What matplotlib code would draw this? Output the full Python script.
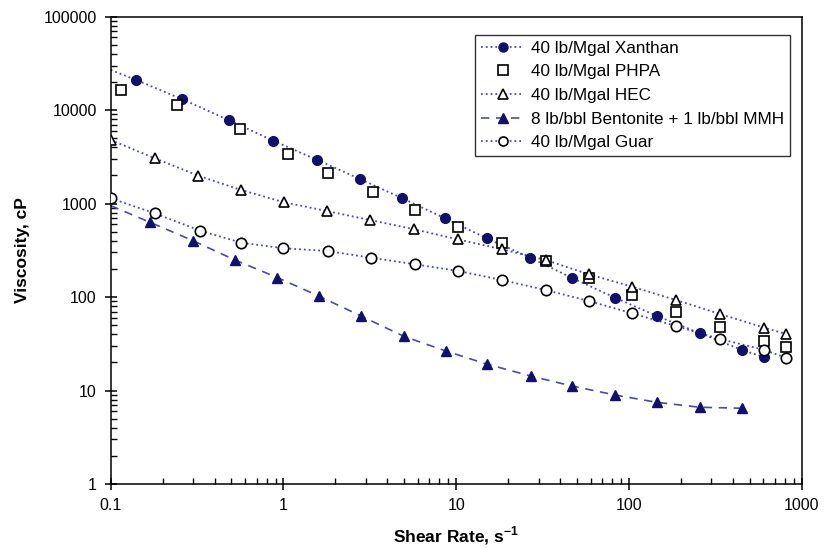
import numpy as np
import matplotlib.pyplot as plt
from matplotlib.ticker import LogLocator, FixedLocator, NullFormatter

plt.rcParams['font.family'] = ['Liberation Sans', 'DejaVu Sans']
plt.rcParams['mathtext.fontset'] = 'custom'
plt.rcParams['mathtext.bf'] = 'Liberation Sans:bold'

# shear rates (1/s) and viscosities (cP) for each fluid
x_xan = [0.141, 0.26, 0.484, 0.873, 1.57, 2.77, 4.88, 8.6, 15.0, 26.8, 46.6, 83, 145, 258, 453, 608]
y_xan = [21000, 13060, 7800, 4710, 2930, 1835, 1140, 697, 426, 264, 161, 98.5, 62.8, 41, 27.1, 22.7]
# dotted guide for xanthan starts at the left edge of the axis
x_xan_line = [0.1] + x_xan
y_xan_line = [26900] + y_xan

x_phpa = [0.115, 0.243, 0.562, 1.06, 1.82, 3.31, 5.77, 10.3, 18.5, 33, 58.7, 104.5, 187, 336, 607, 811]
y_phpa = [16400, 11350, 6240, 3370, 2130, 1322, 855, 567, 382, 243, 159, 105, 69.8, 48.2, 34.1, 29]

x_hec = [0.1, 0.18, 0.321, 0.568, 1.007, 1.78, 3.17, 5.72, 10.2, 18.5, 33, 58.7, 104.5, 187, 336, 607, 811]
y_hec = [4800, 3055, 1990, 1400, 1034, 834, 668, 531, 415, 324, 249, 175, 129, 93, 66, 47, 40.3]

x_bent = [0.169, 0.30, 0.524, 0.92, 1.61, 2.81, 4.98, 8.7, 15, 27, 46.6, 83, 145, 258, 453]
y_bent = [631, 401, 249, 162, 102, 62.8, 38, 26.5, 19.2, 14.3, 11.2, 8.96, 7.48, 6.62, 6.46]
x_bent_line = [0.1] + x_bent
y_bent_line = [950] + y_bent

x_guar = [0.1, 0.18, 0.33, 0.57, 1.0, 1.8, 3.2, 5.8, 10.3, 18.5, 33, 58.7, 104.5, 187, 336, 607, 811]
y_guar = [1140, 787, 513, 382, 333, 311, 264, 224, 190, 152, 119, 90.8, 67, 49, 35.6, 27.2, 22.4]

labels = ['40 lb/Mgal Xanthan', '40 lb/Mgal PHPA', '40 lb/Mgal HEC',
          '8 lb/bbl Bentonite + 1 lb/bbl MMH', '40 lb/Mgal Guar']

navy = '#10106e'
line_c = '#4a4aa8'

fig = plt.figure(figsize=(8.25, 5.48), dpi=100)
ax = fig.add_axes([0.1342, 0.1168, 0.8376, 0.8527])

ax.plot(x_xan_line, y_xan_line, ls=':', color=line_c, lw=1.3, zorder=2)
ax.plot(x_hec, y_hec, ls=':', color=line_c, lw=1.3, zorder=2)
ax.plot(x_bent_line, y_bent_line, ls=(0, (5, 4)), color=line_c, lw=1.2, zorder=2)
ax.plot(x_guar, y_guar, ls=':', color=line_c, lw=1.3, zorder=2)

ax.plot(x_xan, y_xan, 'o', ms=7, color=navy, mec=navy, zorder=3)
ax.plot(x_phpa, y_phpa, 's', ms=7.5, mfc='white', mec='black', mew=1.2, zorder=3)
ax.plot(x_hec, y_hec, '^', ms=7.5, mfc='white', mec='black', mew=1.2, zorder=3)
ax.plot(x_bent, y_bent, '^', ms=7.5, color=navy, mec=navy, zorder=3)
ax.plot(x_guar, y_guar, 'o', ms=7.5, mfc='white', mec='black', mew=1.2, zorder=3)

# legend handles combine the guide line and the marker
h_xan, = ax.plot([], [], ls=':', color=line_c, lw=1.3, marker='o', ms=6.5, mfc=navy, mec=navy)
h_phpa, = ax.plot([], [], ls='none', marker='s', ms=6.5, mfc='white', mec='black', mew=1.2)
h_hec, = ax.plot([], [], ls=':', color=line_c, lw=1.3, marker='^', ms=6.5, mfc='white', mec='black', mew=1.2)
h_bent, = ax.plot([], [], ls=(0, (5, 4)), color=line_c, lw=1.2, marker='^', ms=6.5, mfc=navy, mec=navy)
h_guar, = ax.plot([], [], ls=':', color=line_c, lw=1.3, marker='o', ms=6.5, mfc='white', mec='black', mew=1.2)

leg = ax.legend([h_xan, h_phpa, h_hec, h_bent, h_guar], labels,
                loc='upper right', bbox_to_anchor=(0.983, 0.961), borderaxespad=0,
                fontsize=12.3, frameon=True, fancybox=False, handlelength=2.5,
                handletextpad=0.4, labelspacing=0.5, borderpad=0.35)
leg.get_frame().set_edgecolor('black')
leg.get_frame().set_linewidth(1.0)

ax.set_xscale('log')
ax.set_yscale('log')
ax.set_xlim(0.1, 1000)
ax.set_ylim(1, 100000)

ax.xaxis.set_major_locator(FixedLocator([0.1, 1, 10, 100, 1000]))
ax.set_xticklabels(['0.1', '1', '10', '100', '1000'])
ax.yaxis.set_major_locator(FixedLocator([1, 10, 100, 1000, 10000, 100000]))
ax.set_yticklabels(['1', '10', '100', '1000', '10000', '100000'])
ax.xaxis.set_minor_locator(LogLocator(base=10, subs=np.arange(2, 10)))
ax.yaxis.set_minor_locator(LogLocator(base=10, subs=np.arange(2, 10)))
ax.xaxis.set_minor_formatter(NullFormatter())
ax.yaxis.set_minor_formatter(NullFormatter())

ax.tick_params(which='major', direction='inout', length=8, width=1.1, labelsize=11.5, pad=6)
ax.tick_params(which='minor', direction='in', length=4, width=1.0)

for s in ax.spines.values():
    s.set_linewidth(1.1)

ax.set_xlabel(r'Shear Rate, s$^{\mathbf{-1}}$', fontsize=12.5, fontweight='bold', labelpad=8)
ax.set_ylabel('Viscosity, cP', fontsize=12.5, fontweight='bold', labelpad=10)

fig.savefig('out.png', dpi=100)
